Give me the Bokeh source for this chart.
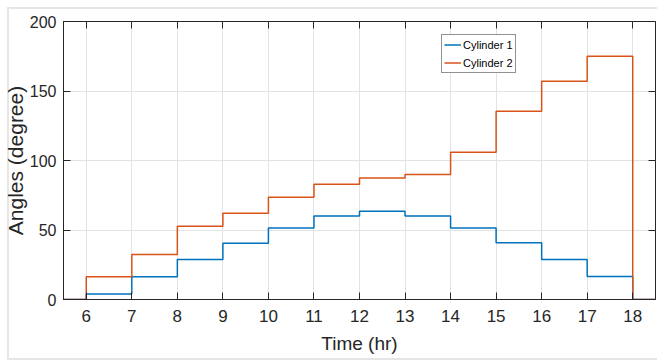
from bokeh.plotting import figure
from bokeh.models import LinearAxis, FixedTicker, Range1d, InlineStyleSheet, CustomLabelingPolicy
from bokeh.embed import file_html
from bokeh.resources import INLINE

# ---- data ----
hours = [6, 7, 8, 9, 10, 11, 12, 13, 14, 15, 16, 17, 18]
cylinder1 = [4, 16.3, 28.8, 40.5, 51.5, 60, 63.5, 60, 51.5, 40.8, 28.8, 16.5]
cylinder2 = [16.3, 32.4, 52.7, 62, 73.5, 83, 87.5, 90, 106, 135.5, 157, 175]
y_ticks = [0, 50, 100, 150, 200]
x_start, x_end = 5.5, 18.5
y_start, y_end = 0, 200

step_x = [x_start] + hours + [x_end]
c1_y = [0] + cylinder1 + [0, 0]
c2_y = [0] + cylinder2 + [0, 0]

DARK = "#262626"
GRID = "#e3e3e3"
FONT = "Liberation Sans"

p = figure(width=657, height=360,
           x_range=Range1d(x_start, x_end), y_range=Range1d(y_start, y_end),
           output_backend="svg", toolbar_location=None,
           min_border_left=63, min_border_top=21, min_border_right=2, min_border_bottom=61,
           background_fill_color="white", border_fill_color="white", border_fill_alpha=0,
           outline_line_color=DARK, outline_line_width=1)

p.stylesheets = [InlineStyleSheet(css=(
    ":host { background-color: white;"
    " background-image: linear-gradient(#e6e6e6, #e6e6e6), linear-gradient(#e6e6e6, #e6e6e6),"
    " linear-gradient(#e6e6e6, #e6e6e6);"
    " background-size: 650px 2px, 2px 353px, 650px 2px;"
    " background-position: 7px 7px, 7px 7px, 7px 358px;"
    " background-repeat: no-repeat; }"))]

p.step(step_x, c1_y, mode="after", line_color="#0072BD", line_width=1.5, legend_label="Cylinder 1")
p.step(step_x, c2_y, mode="after", line_color="#D95319", line_width=1.5, legend_label="Cylinder 2")

# axes
p.xaxis.ticker = FixedTicker(ticks=hours)
p.yaxis.ticker = FixedTicker(ticks=y_ticks)
for ax in (p.xaxis[0], p.yaxis[0]):
    ax.major_tick_in = 7
    ax.major_tick_out = 0
    ax.minor_tick_in = 0
    ax.minor_tick_out = 0
    ax.axis_line_color = DARK
    ax.major_tick_line_color = DARK
    ax.major_label_text_color = DARK
    ax.major_label_text_font = FONT
    ax.axis_label_text_color = DARK
    ax.axis_label_text_font = FONT
    ax.axis_label_text_font_style = "normal"

p.xaxis.major_label_text_font_size = "17px"
p.xaxis.major_label_standoff = 10
p.xaxis.axis_label = "Time (hr)"
p.xaxis.axis_label_text_font_size = "19px"
p.xaxis.axis_label_standoff = 8

p.yaxis.major_label_text_font_size = "16px"
p.yaxis.major_label_standoff = 7
p.yaxis.axis_label = "Angles (degree)"
p.yaxis.axis_label_text_font_size = "21px"
p.yaxis.axis_label_standoff = 0

hide_all = CustomLabelingPolicy(code="for (const i of indices) { indices.unset(i) } return indices")


def box_axis(ticks, loc):
    return LinearAxis(ticker=FixedTicker(ticks=ticks), major_label_text_font_size="0px",
                      major_label_policy=hide_all, fixed_location=loc,
                      major_label_standoff=0, axis_label_standoff=0,
                      major_tick_in=7, major_tick_out=0,
                      minor_tick_in=0, minor_tick_out=0, axis_line_color=DARK,
                      major_tick_line_color=DARK)


p.add_layout(box_axis(hours, y_end), "above")
p.add_layout(box_axis(y_ticks, x_end), "right")

# grid
p.xgrid.grid_line_color = GRID
p.ygrid.grid_line_color = GRID
p.xgrid.grid_line_width = 1
p.ygrid.grid_line_width = 1

# legend
lg = p.legend[0]
lg.location = (378, 226)
lg.label_text_font = FONT
lg.label_text_font_size = "11px"
lg.label_text_color = "black"
lg.padding = 2
lg.spacing = 3
lg.margin = 0
lg.glyph_width = 17
lg.glyph_height = 15
lg.label_height = 15
lg.label_standoff = 2
lg.border_line_color = DARK
lg.border_line_width = 1
lg.background_fill_color = "white"
lg.background_fill_alpha = 1

open("out.html", "w").write(file_html(p, INLINE))
